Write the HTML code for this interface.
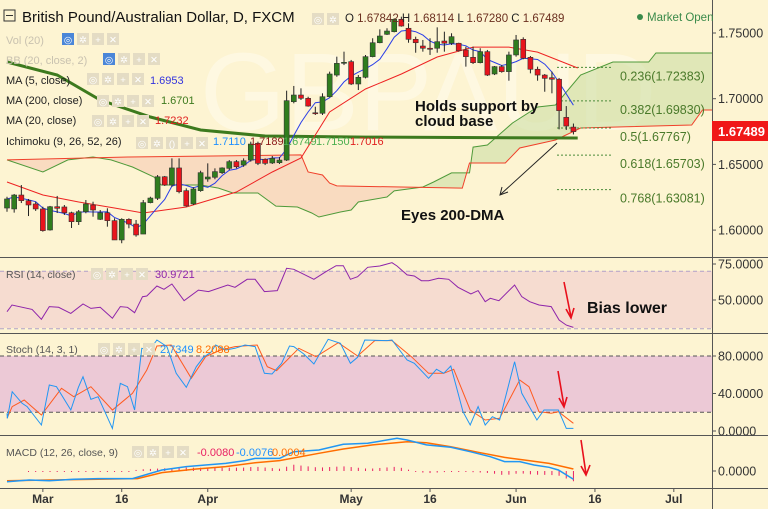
<!DOCTYPE html>
<html><head><meta charset="utf-8"><style>
html,body{margin:0;padding:0;background:#fff;}
svg{display:block;font-family:"Liberation Sans",Arial,sans-serif;}
</style></head><body>
<svg id="chart" width="768" height="516" viewBox="0 0 768 516" xmlns="http://www.w3.org/2000/svg">
<defs>
<clipPath id="cMain"><rect x="0" y="0" width="712" height="257"/></clipPath>
<clipPath id="cRsi"><rect x="0" y="258" width="712" height="75"/></clipPath>
<clipPath id="cSto"><rect x="0" y="334" width="712" height="101"/></clipPath>
<clipPath id="cMacd"><rect x="0" y="436" width="712" height="52"/></clipPath>
</defs>
<rect x="0" y="0" width="768" height="509" fill="#fdf4d2"/>
<text x="200" y="130" font-size="110" fill="#ffffff" fill-opacity="0.35">GBPAUD</text>
<rect x="0" y="271" width="712" height="57" fill="#f6dcd0"/>
<rect x="0" y="356" width="712" height="56" fill="#ecc9d6"/>
<g id="main" clip-path="url(#cMain)"></g>
<g id="rsi" clip-path="url(#cRsi)"></g>
<g id="sto" clip-path="url(#cSto)"></g>
<g id="macd" clip-path="url(#cMacd)"></g>
<g id="axes"></g>
<g id="overlay"></g>
<g>
<rect x="4" y="10" width="11" height="11" fill="none" stroke="#333"/>
<line x1="6" y1="15.5" x2="13" y2="15.5" stroke="#333"/>
<text x="22" y="22" font-size="15" fill="#111">British Pound/Australian Dollar, D, FXCM</text>
<text x="345" y="22" font-size="11.5" fill="#6b2f1f"><tspan fill="#222">O</tspan> 1.67842 <tspan fill="#222">H</tspan> 1.68114 <tspan fill="#222">L</tspan> 1.67280 <tspan fill="#222">C</tspan> 1.67489</text>
<circle cx="640" cy="17" r="3" fill="#3a8a4a"/>
<text x="647" y="21" font-size="11.5" fill="#3a8a4a">Market Open</text>
<text x="6" y="44" font-size="11" fill="#c9c2b0">Vol (20)</text>
<text x="6" y="64" font-size="11" fill="#c9c2b0">BB (20, close, 2)</text>
<text x="6" y="84" font-size="11" fill="#222">MA (5, close)</text>
<text x="150" y="84" font-size="11" fill="#3333dd">1.6953</text>
<text x="6" y="104" font-size="11" fill="#222">MA (200, close)</text>
<text x="161" y="104" font-size="11" fill="#3d7a1e">1.6701</text>
<text x="6" y="124" font-size="11" fill="#222">MA (20, close)</text>
<text x="155" y="124" font-size="11" fill="#e02020">1.7232</text>
<text x="6" y="145" font-size="11" fill="#222">Ichimoku (9, 26, 52, 26)</text>
<text x="213" y="145" font-size="11" fill="#1e90ff">1.7110</text>
<text x="250" y="145" font-size="11" fill="#8b1a1a">1.7189</text>
<text x="283" y="145" font-size="11" fill="#4caf50">1.6749</text>
<text x="316" y="145" font-size="11" fill="#4caf50">1.7150</text>
<text x="350" y="145" font-size="11" fill="#e02020">1.7016</text>
<text x="6" y="278" font-size="10.5" fill="#555">RSI (14, close)</text>
<text x="155" y="278" font-size="11" fill="#8e24aa">30.9721</text>
<text x="6" y="353" font-size="10.5" fill="#555">Stoch (14, 3, 1)</text>
<text x="160" y="353" font-size="11" fill="#1e90ff">2.7349</text>
<text x="196" y="353" font-size="11" fill="#ff6d00">8.2088</text>
<text x="6" y="456" font-size="10.5" fill="#555">MACD (12, 26, close, 9)</text>
<text x="197" y="456" font-size="11" fill="#e91e63">-0.0080</text>
<text x="236" y="456" font-size="11" fill="#1e90ff">-0.0076</text>
<text x="272" y="456" font-size="11" fill="#ff6d00">0.0004</text>
</g>
<g id="buttons"></g>
<text x="415" y="111" font-size="15" font-weight="bold" fill="#111">Holds support by</text>
<text x="415" y="126" font-size="15" font-weight="bold" fill="#111">cloud base</text>
<text x="401" y="220" font-size="15" font-weight="bold" fill="#111">Eyes 200-DMA</text>
<line x1="557" y1="143" x2="501" y2="194" stroke="#222" stroke-width="1"/>
<polyline points="502,187 500,195 508,192" fill="none" stroke="#222"/>
<text x="587" y="313" font-size="16" font-weight="bold" fill="#111">Bias lower</text>
<g stroke="#e8101c" stroke-width="1.6" fill="none">
<line x1="564" y1="282" x2="571" y2="317"/><polyline points="566,309 571,318 574,308"/>
<line x1="558" y1="371" x2="564" y2="406"/><polyline points="559,398 564,407 567,397"/>
<line x1="581" y1="440" x2="586" y2="474"/><polyline points="581,466 586,475 590,465"/>
</g>
<rect x="712" y="121" width="56" height="20" fill="#f01818"/>
<text x="718" y="136" font-size="13" font-weight="bold" fill="#fff">1.67489</text>
</svg>
<script>
const opens=[1.6168,1.6161,1.6267,1.6224,1.6199,1.6161,1.6001,1.6178,1.6176,1.6132,1.6064,1.6140,1.6191,1.6082,1.6132,1.6072,1.5925,1.6082,1.6046,1.5970,1.6209,1.6242,1.6406,1.6343,1.6473,1.6300,1.6199,1.6300,1.6389,1.6402,1.6437,1.6470,1.6521,1.6495,1.6533,1.6661,1.6539,1.6511,1.6513,1.6533,1.6977,1.7028,1.7003,1.6893,1.6889,1.7015,1.7180,1.7272,1.7282,1.7112,1.7163,1.7320,1.7426,1.7490,1.7510,1.7604,1.7536,1.7452,1.7401,1.7384,1.7384,1.7439,1.7422,1.7422,1.7371,1.7315,1.7274,1.7358,1.7188,1.7244,1.7206,1.7333,1.7452,1.7315,1.7224,1.7180,1.7160,1.7148,1.6858,1.6784];
const highs=[1.6254,1.6275,1.6343,1.6237,1.6216,1.6178,1.6184,1.6260,1.6191,1.6140,1.6153,1.6229,1.6216,1.6153,1.6166,1.6090,1.6090,1.6090,1.6077,1.6229,1.6254,1.6419,1.6412,1.6546,1.6546,1.6318,1.6326,1.6452,1.6508,1.6470,1.6478,1.6533,1.6533,1.6546,1.6673,1.6673,1.6546,1.6564,1.6556,1.7061,1.7097,1.7079,1.7015,1.6939,1.7041,1.7206,1.7320,1.7358,1.7295,1.7180,1.7333,1.7460,1.7528,1.7536,1.7612,1.7624,1.7574,1.7472,1.7447,1.7460,1.7543,1.7510,1.7498,1.7426,1.7396,1.7396,1.7384,1.7371,1.7249,1.7256,1.7358,1.7485,1.7467,1.7325,1.7244,1.7188,1.7206,1.7158,1.6944,1.6811];
const lows=[1.6140,1.6133,1.6206,1.6107,1.6146,1.5988,1.5996,1.6130,1.6115,1.6016,1.6039,1.6128,1.6102,1.6077,1.6026,1.5925,1.5900,1.6014,1.5950,1.5970,1.6204,1.6229,1.6336,1.6330,1.6280,1.6178,1.6191,1.6292,1.6368,1.6387,1.6427,1.6457,1.6470,1.6482,1.6521,1.6495,1.6495,1.6503,1.6503,1.6526,1.6965,1.6990,1.6939,1.6876,1.6876,1.7011,1.7167,1.7256,1.7104,1.7066,1.7155,1.7315,1.7422,1.7485,1.7505,1.7548,1.7426,1.7350,1.7358,1.7333,1.7350,1.7358,1.7409,1.7358,1.7244,1.7264,1.7269,1.7173,1.7180,1.7198,1.7137,1.7320,1.7300,1.7193,1.7137,1.7053,1.7041,1.6767,1.6762,1.6728];
const closes=[1.6237,1.6267,1.6224,1.6191,1.6161,1.5996,1.6178,1.6166,1.6132,1.6064,1.6140,1.6199,1.6153,1.6132,1.6072,1.5925,1.6082,1.6046,1.5963,1.6209,1.6244,1.6406,1.6343,1.6473,1.6292,1.6184,1.6313,1.6437,1.6404,1.6445,1.6473,1.6521,1.6482,1.6528,1.6655,1.6508,1.6508,1.6546,1.6533,1.6985,1.7028,1.7003,1.6944,1.6889,1.7015,1.7188,1.7269,1.7277,1.7112,1.7163,1.7320,1.7426,1.7477,1.7515,1.7604,1.7553,1.7452,1.7426,1.7384,1.7376,1.7434,1.7422,1.7472,1.7365,1.7320,1.7274,1.7358,1.7180,1.7244,1.7206,1.7333,1.7447,1.7308,1.7224,1.7180,1.7155,1.7148,1.6909,1.6792,1.6749];
const ma200Idx=[0,7,13,20,27,36,50,79.6];
const ma200Val=[1.7279,1.7180,1.6990,1.6861,1.6762,1.6716,1.6708,1.6701];
const ma20Idx=[0,5,10,15,19,25,32,37,41,45,50,55,60,65,70,74,79.6];
const ma20Val=[1.6366,1.6267,1.6214,1.6168,1.6130,1.6176,1.6290,1.6442,1.6549,1.6899,1.7074,1.7188,1.7317,1.7393,1.7393,1.7355,1.7234];
const spanBIdx=[0,17,41,42,44,45,46,63.5,64.5,69.5,71.5,76.5,80,95.5,97,98.5];
const spanBVal=[1.6534,1.6556,1.6572,1.6442,1.6419,1.6358,1.6336,1.6320,1.6511,1.6511,1.6625,1.6686,1.6777,1.6800,1.6914,1.6914];
const spanAIdx=[0,5,8.5,12,14.5,17.5,20.5,21.5,27,29.5,31.5,35,37.5,40.5,42.5,43.5,46.5,48,49,53,54,58,59.5,62,64.5,65,67,70.5,74,76.5,80,84.5,89.5,90.5,98.5];
const spanAVal=[1.6534,1.6442,1.6534,1.6556,1.6534,1.6480,1.6404,1.6343,1.6343,1.6320,1.6282,1.6282,1.6183,1.6176,1.6130,1.6100,1.6138,1.6153,1.6214,1.6252,1.6298,1.6328,1.6366,1.6435,1.6435,1.6632,1.6648,1.6815,1.6937,1.6952,1.7180,1.7279,1.7279,1.7348,1.7348];
const fibLevels=[0.236,0.382,0.5,0.618,0.768];
const fibPrices=[1.72383,1.69830,1.67767,1.65703,1.63081];
const priceTicks=[1.75,1.70,1.65,1.60];
const rsiIdx=[0,0.7,3.5,4.8,5.9,7.2,8.9,10.6,11.7,13,14.7,15.8,16.8,17.8,18.9,19.5,20.9,21.9,23,24.7,26.7,28.1,30.8,31.8,33.5,34.6,35.9,37.7,39,40,42.8,44.5,45.9,46.9,47.9,48.9,50.3,52,53.7,54.4,55.8,56.8,57.8,58.8,60.2,61.6,62.9,64.7,65.7,66.7,67.4,68.6,70.8,71.8,72.9,74.2,75.9,77,78,79];
const rsiVal=[41.9,46.5,43.5,36.6,45.4,44.9,40.7,47.2,44.2,44.9,37.3,45.4,44.9,41.2,52.3,52.8,59.7,57.4,61.1,49.5,56.9,55.8,60.4,58.8,64.4,64.4,55.8,56.5,72,71.3,64.4,69.7,73.8,73.8,64.4,66.2,72.7,73.6,75.9,73.6,67.4,66.7,63.4,63.4,65.1,64.4,58.8,54.2,56.5,48.8,51.2,49.5,60.4,52.3,48.8,46.5,45.4,36.1,32.6,31];
const rsiTicks=[75,50];
const kIdx=[0,0.05,0.73,2.1,2.8,4.8,5.9,6.9,8.9,9.96,10.6,11.7,12.7,14.7,15.8,16.8,17.8,18.8,19.9,20.9,22.3,23.6,25,26.4,27.4,28.4,29.1,30.5,31.8,33.2,34.6,35.9,36.96,38.3,39.4,40,41.4,42.8,44.8,46.5,47.9,48.9,49.9,53,53.7,55.8,56.8,58.8,59.9,60.9,61.9,63.6,64.6,65.7,66.7,67.7,68.7,70.8,71.8,73.9,74.9,76.9,78,79];
const kVal=[18.9,13.5,41.9,29.5,26,6.4,49.1,47.3,22.4,46.6,57.9,33.8,36.6,2.8,50.8,47.3,22.4,88.2,86.4,97.1,90,61.5,46.6,68.6,78.6,83.6,91.7,86.4,88.2,91.7,90,61.5,60.8,72.2,90.7,90,82.1,71.5,97.8,93.5,72.2,78.6,97.1,96.4,97.1,75.7,72.2,56.2,65.8,61.5,69.3,20.6,6.4,26,6.4,15.3,11.7,73.9,40.2,11.7,22.4,22.4,2.8,2.8];
const dIdx=[0,0.73,2.4,4.8,7.6,9.3,11.7,14.7,17.5,19.5,20.9,22.9,25.7,27.7,29.8,31.8,34.9,36.3,37.6,40.7,43.1,46.2,48.9,51.3,53.7,56.4,58.8,60.9,62.3,64.6,66.7,68.7,71.5,72.8,74.2,75.9,76.9,79];
const dVal=[13.5,26,33.1,17.1,45.5,36.6,47.3,22.4,40.2,65.1,90.7,91.7,56.2,79.3,86.4,90,91.7,68.6,64.4,88.2,79.3,94.2,80,96.4,96.4,79.3,61.5,61.5,65.8,22.4,11.7,13.5,54.4,47.3,20.6,18.9,20.6,8.2];
const stochTicks=[80,40,0];
const macdIdx=[0,3.1,5.9,9.3,12.7,17.5,21.6,25,27.7,30.5,33.2,34.6,38,40,43.5,46.9,50.3,54.4,55.8,58.5,61.9,64.6,67.4,69.4,71.5,73.5,75.6,76.9,79];
const macdVal=[-9.8,-8.3,-8.9,-7.6,-7.0,-7.0,0.9,4.0,5.5,7.0,9.5,11.6,11.6,17.7,19.3,24.5,25.4,30,28.4,23.9,21.7,17.7,13.1,8.6,8.6,5.5,3.4,0.9,-7.6];
const sigIdx=[0,5.9,12.7,18.2,21.6,26.4,30.5,34.6,38,43.5,46.9,51,55.8,58.5,61.9,66,69.4,72.8,75.6,79];
const sigVal=[-8.9,-8.3,-7.6,-7.0,-1.5,1.8,4.0,7.6,9.5,16.2,20.2,23.9,26.9,26,22.3,16.8,12.5,9.5,7.0,1.8];
const dateLabels=["Mar","16","Apr","May","16","Jun","16","Jul"];
const dateIdx=[5,16,28,48,59,71,82,93];

const NS="http://www.w3.org/2000/svg";
const xOf=i=>7+i*7.17;
const yP=p=>33+(1.75-p)*1314;
const yR=v=>300-(v-50)*1.44;
const yS=v=>431-v*0.9375;
const yM=v=>471-v*1.09;
function mk(parent,tag,attrs){const e=document.createElementNS(NS,tag);for(const k in attrs)e.setAttribute(k,attrs[k]);document.getElementById(parent).appendChild(e);return e;}
function interp(ix,vs,t){if(t<=ix[0])return vs[0];for(let k=1;k<ix.length;k++){if(t<=ix[k]){const f=(t-ix[k-1])/(ix[k]-ix[k-1]);return vs[k-1]+f*(vs[k]-vs[k-1]);}}return vs[vs.length-1];}
function pathFrom(ix,vs,yf){return ix.map((t,k)=>(k?'L':'M')+xOf(t).toFixed(1)+' '+yf(vs[k]).toFixed(1)).join(' ');}

let gTop=[],pTop=[],bot=[];
for(let t=0;t<=98.5;t+=0.25){const a=interp(spanAIdx,spanAVal,t),b=interp(spanBIdx,spanBVal,t);const lo=Math.min(a,b);gTop.push([xOf(t),yP(a)]);pTop.push([xOf(t),yP(b)]);bot.push([xOf(t),yP(lo)]);}
const rev=bot.slice().reverse().map(p=>p.join(',')).join(' ');
let e=mk('main','polygon',{points:pTop.map(p=>p.join(',')).join(' ')+' '+rev,fill:'#f7c9b4','fill-opacity':'0.6'});


e=mk('main','polygon',{points:gTop.map(p=>p.join(',')).join(' ')+' '+rev,fill:'#c9dca0','fill-opacity':'0.55'});


e=mk('main','path',{d:pathFrom(spanAIdx,spanAVal,yP),fill:'none',stroke:'#4f9a3a','stroke-width':1});


e=mk('main','path',{d:pathFrom(spanBIdx,spanBVal,yP),fill:'none',stroke:'#f0402a','stroke-width':1});



fibPrices.forEach((p,k)=>{
 const l=mk('main','line',{x1:557,x2:613,y1:yP(p),y2:yP(p),stroke:'#4a8a3a','stroke-dasharray':'2,2','stroke-width':1});
 
 
 const t=mk('overlay','text',{x:620,y:yP(p)+13,'font-size':12.5,fill:'#4a7a2a'});
 t.textContent=fibLevels[k]+'('+p.toFixed(5)+')';
 
 
});

e=mk('main','path',{d:pathFrom(ma200Idx,ma200Val,yP),fill:'none',stroke:'#3d7a1e','stroke-width':3});


e=mk('main','path',{d:pathFrom(ma20Idx,ma20Val,yP),fill:'none',stroke:'#ee2222','stroke-width':1});


const ma5=closes.map((c,i)=>{const s=closes.slice(Math.max(0,i-4),i+1);return s.reduce((a,b)=>a+b,0)/s.length;});
e=mk('main','path',{d:pathFrom(ma5.map((v,i)=>i),ma5,yP),fill:'none',stroke:'#2a3ee8','stroke-width':1});



closes.forEach((c,i)=>{
 const x=xOf(i),o=opens[i],up=c>=o;
 const w=mk('main','line',{x1:x,x2:x,y1:yP(highs[i]),y2:yP(lows[i]),stroke:'#222','stroke-width':1});
 
 
 const top=yP(Math.max(o,c)),h=Math.max(1,yP(Math.min(o,c))-top);
 const b=mk('main','rect',{x:x-2.5,y:top,width:5,height:h,fill:up?'#2f7d1e':'#e8141c',stroke:'#333','stroke-width':0.6});
 
 
});

[70,30].forEach(v=>{const l=mk('rsi','line',{x1:0,x2:712,y1:yR(v),y2:yR(v),stroke:'#b0a0c8','stroke-dasharray':'4,3'});
 
 });
e=mk('rsi','path',{d:pathFrom(rsiIdx,rsiVal,yR),fill:'none',stroke:'#8e24aa','stroke-width':1});



[80,20].forEach(v=>{const l=mk('sto','line',{x1:0,x2:712,y1:yS(v),y2:yS(v),stroke:'#555','stroke-dasharray':'4,3'});
 
 });
e=mk('sto','path',{d:pathFrom(dIdx,dVal,yS),fill:'none',stroke:'#ff5a1f','stroke-width':1});


e=mk('sto','path',{d:pathFrom(kIdx,kVal,yS),fill:'none',stroke:'#2196f3','stroke-width':1});



for(let i=3;i<80;i++){
 const h=interp(macdIdx,macdVal,i)-interp(sigIdx,sigVal,i);
 const y0=yM(0),y1=yM(h);
 const r=mk('macd','line',{x1:xOf(i),x2:xOf(i),y1:y0,y2:Math.abs(y1-y0)<1?y0+1:y1,stroke:'#e91e63','stroke-width':1});
 
 
}
e=mk('macd','path',{d:pathFrom(sigIdx,sigVal,yM),fill:'none',stroke:'#ff6d00','stroke-width':1.5});


e=mk('macd','path',{d:pathFrom(macdIdx,macdVal,yM),fill:'none',stroke:'#2196f3','stroke-width':1.5});



[257.5,333.5,435.5,488.5].forEach(y=>{const l=mk('axes','line',{x1:0,x2:768,y1:y,y2:y,stroke:'#555','stroke-width':1});
 
 });
e=mk('axes','line',{x1:712.5,x2:712.5,y1:0,y2:509,stroke:'#555','stroke-width':1});


function ytick(y,label,name){
 const l=mk('axes','line',{x1:712,x2:716,y1:y,y2:y,stroke:'#555'});
 
 
 const t=mk('axes','text',{x:718,y:y+4.5,'font-size':12.5,fill:'#333'});
 t.textContent=label;
 
 
}
priceTicks.forEach(p=>ytick(yP(p),p.toFixed(5),'price-axis'));
rsiTicks.forEach(v=>ytick(yR(v),v.toFixed(4),'rsi-axis'));
stochTicks.forEach(v=>ytick(yS(v),v.toFixed(4),'stoch-axis'));
ytick(yM(0),'0.0000','macd-axis');
dateLabels.forEach((d,k)=>{
 const x=xOf(dateIdx[k]);
 const l=mk('axes','line',{x1:x,x2:x,y1:488,y2:492,stroke:'#555'});
 
 
 const t=mk('axes','text',{x:x,y:503,'font-size':12,'font-weight':'bold',fill:'#333','text-anchor':'middle'});
 t.textContent=d;
 
 
});

const btnRows=[[312,13,2,false,0],[62,33,4,true,0],[103,53,4,true,0],[87,73,4,false,0],[97,95,4,false,0],[92,115,4,false,0],[136,137,5,false,1],[91,268,4,false,0],[98,343,4,false,0],[132,446,4,false,0]];
const iconSets=[['◎','✲','+','✕'],['◎','✲','()','+','✕']];
btnRows.forEach(([x0,y0,n,blue,set])=>{
 for(let k=0;k<n;k++){
  const bx=x0+k*15;
  const rc=mk('buttons','rect',{x:bx,y:y0,width:12,height:12,fill:(blue&&k===0)?'#4a86d8':'#e4dcc4'});
  
  
  const t=mk('buttons','text',{x:bx+6,y:y0+10,'font-size':9.5,fill:'#fff','text-anchor':'middle'});
  t.textContent=iconSets[set][k];
  
  
 }
});
</script>
</body></html>
